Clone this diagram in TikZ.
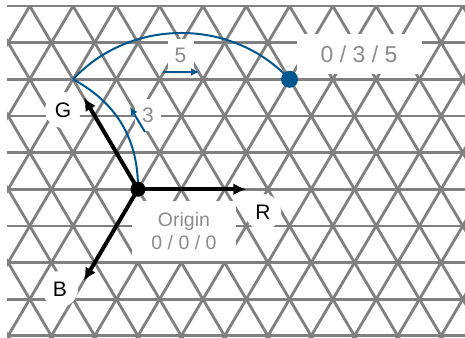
\documentclass[tikz,border=0pt]{standalone}
\usepackage{fontspec}
\setmainfont{Liberation Sans}
\usetikzlibrary{arrows.meta}
\definecolor{gridgray}{RGB}{128,128,128}
\definecolor{labgray}{RGB}{140,140,140}
\definecolor{pathblue}{RGB}{0,87,142}
\begin{document}
\begin{tikzpicture}[x=1pt,y=-1pt,
  gridline/.style={draw=gridgray,line width=2.8pt},
  axisarrow/.style={draw=black,line width=4pt,-{Latex[length=13pt,width=12pt]}},
  bluepath/.style={draw=pathblue,line width=2pt},
  bluearrow/.style={draw=pathblue,line width=2pt,-{Latex[length=8pt,width=8pt]}},
  whitelabel/.style={fill=white,text=labgray,inner sep=0pt},
  letterlabel/.style={circle,fill=white,text=black,inner sep=0pt,minimum size=36pt,font=\fontsize{21}{24}\selectfont},
]
\useasboundingbox (0,0) rectangle (465,337);
% grid
\begin{scope}
  \clip (7,6) rectangle (466,340);
  \foreach \n in {-8,...,12}{
    \draw[gridline] ({138+43.3*\n-129.9},-30.65) -- ({138+43.3*\n+108.25},372.5);
    \draw[gridline] ({138+43.3*\n+129.9},-30.65) -- ({138+43.3*\n-108.25},372.5);
  }
\end{scope}
\foreach \k in {0,...,9} \draw[gridline] (7,{6+36.65*\k}) -- (466,{6+36.65*\k});
% key points
\coordinate (o) at (138,189.25);
\coordinate (g3) at (73.05,79.3);
\coordinate (p) at (289.55,79.3);
\coordinate (rt) at (246.25,189.25);
\coordinate (gt) at (83.9,97.6);
\coordinate (bt) at (83.9,280.9);
\coordinate (a5s) at (163,72);
\coordinate (a5e) at (199,72);
\coordinate (a3s) at (145,132);
\coordinate (a3e) at (130,107);
% labels
\node[whitelabel,minimum width=125pt,minimum height=40pt,font=\fontsize{23}{26}\selectfont] (lab035) at (359,54) {0 / 3 / 5};
\node[whitelabel,minimum width=104pt,minimum height=60pt,align=center,font=\fontsize{19.5}{22.5}\selectfont] (laborig) at (184,231) {Origin\\0 / 0 / 0};
\node[whitelabel,minimum width=26pt,minimum height=32pt,font=\fontsize{21}{24}\selectfont] (lab5) at (180.5,55) {5};
\node[whitelabel,minimum width=26pt,minimum height=32pt,font=\fontsize{21}{24}\selectfont] (lab3) at (148,115) {3};
\node[letterlabel] (labG) at (63,110) {G};
\node[letterlabel] (labR) at (263,212) {R};
\node[letterlabel] (labB) at (60,289) {B};
% blue paths
\draw[bluepath] (o) to[bend right=31] (g3);
\draw[bluepath] (g3) to[bend left=47] (p);
\draw[bluearrow] (a5s) -- (a5e);
\draw[bluearrow] (a3s) -- (a3e);
% axes
\draw[axisarrow] (o) -- (rt);
\draw[axisarrow] (o) -- (gt);
\draw[axisarrow] (o) -- (bt);
% dots
\node[circle,fill=black,minimum size=15pt,inner sep=0pt] (odot) at (o) {};
\node[circle,fill=pathblue,minimum size=17pt,inner sep=0pt] (pdot) at (p) {};
\end{tikzpicture}
\end{document}
